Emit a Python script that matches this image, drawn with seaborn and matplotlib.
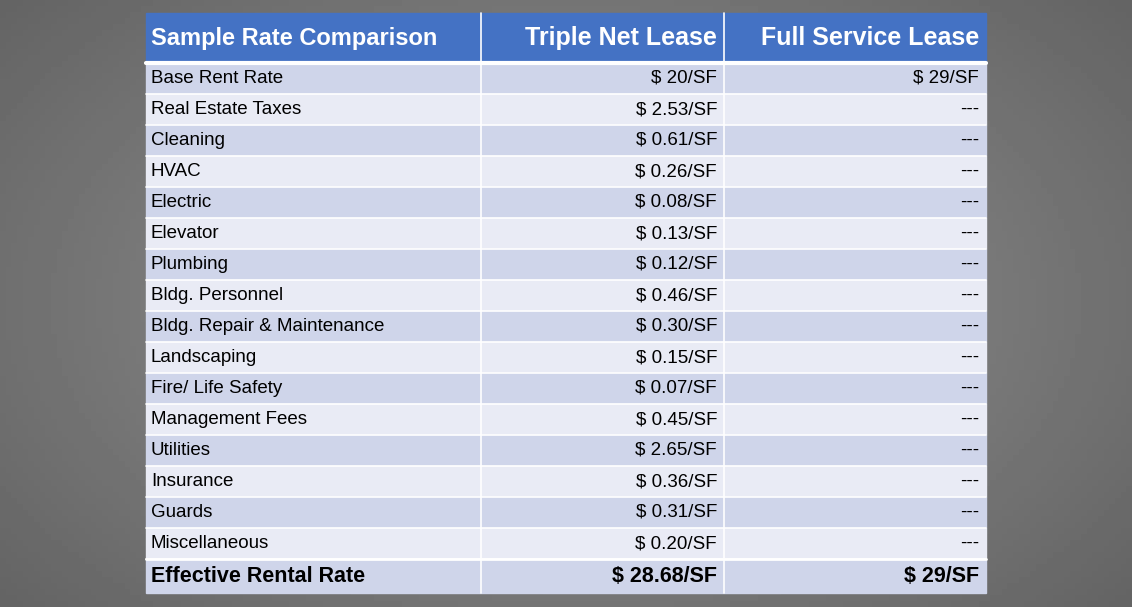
import numpy as np
import matplotlib
matplotlib.use("Agg")
import matplotlib.pyplot as plt
import seaborn as sns
from matplotlib.patches import Rectangle

sns.set_theme(style="white")
plt.rcParams['font.family'] = ['Liberation Sans', 'DejaVu Sans']

headers = ["Sample Rate Comparison", "Triple Net Lease", "Full Service Lease"]
items = ["Base Rent Rate", "Real Estate Taxes", "Cleaning", "HVAC", "Electric", "Elevator",
         "Plumbing", "Bldg. Personnel", "Bldg. Repair & Maintenance", "Landscaping",
         "Fire/ Life Safety", "Management Fees", "Utilities", "Insurance", "Guards", "Miscellaneous"]
nnn = ["$ 20/SF", "$ 2.53/SF", "$ 0.61/SF", "$ 0.26/SF", "$ 0.08/SF", "$ 0.13/SF", "$ 0.12/SF",
       "$ 0.46/SF", "$ 0.30/SF", "$ 0.15/SF", "$ 0.07/SF", "$ 0.45/SF", "$ 2.65/SF",
       "$ 0.36/SF", "$ 0.31/SF", "$ 0.20/SF"]
full = ["$ 29/SF"] + ["---"] * 15
total = ["Effective Rental Rate", "$ 28.68/SF", "$ 29/SF"]

W, H = 1132, 607
fig = plt.figure(figsize=(W / 100, H / 100), dpi=100)
ax = fig.add_axes([0, 0, 1, 1])
ax.set_xlim(0, W)
ax.set_ylim(H, 0)
ax.axis("off")

# background gradient
xx, yy = np.meshgrid(np.linspace(-1, 1, 200), np.linspace(-1, 1, 100))
r = np.sqrt(xx**2 * 0.8 + yy**2 * 0.6)
ax.imshow(0.58 - 0.16 * r, cmap="gray", vmin=0, vmax=1, extent=[0, W, H, 0], aspect="auto", zorder=0)

xs = [146, 481, 724, 986]
top, hdr_bot = 13, 63
row_h = 31.0
tot_top = hdr_bot + row_h * len(items)
bottom = 593

ax.add_patch(Rectangle((xs[0], top), xs[3] - xs[0], hdr_bot - top, color="#4472c4", zorder=1))
for i, h in enumerate(headers):
    if i == 0:
        ax.text(xs[0] + 5, (top + hdr_bot) / 2, h, color="white", fontsize=17, fontweight="bold", va="center", ha="left", zorder=3)
    else:
        ax.text(xs[i + 1] - 7, (top + hdr_bot) / 2, h, color="white", fontsize=18, fontweight="bold", va="center", ha="right", zorder=3)

for k, (a, b, c) in enumerate(zip(items, nnn, full)):
    y0 = hdr_bot + k * row_h
    col = "#cfd5ea" if k % 2 == 0 else "#e9ebf5"
    ax.add_patch(Rectangle((xs[0], y0), xs[3] - xs[0], row_h, color=col, zorder=1))
    yc = y0 + row_h / 2
    ax.text(xs[0] + 5, yc, a, fontsize=13.5, va="center", ha="left", color="black", zorder=3)
    ax.text(xs[2] - 7, yc, b, fontsize=13.5, va="center", ha="right", color="black", zorder=3)
    ax.text(xs[3] - 7, yc, c, fontsize=13.5, va="center", ha="right", color="black", zorder=3)

ax.add_patch(Rectangle((xs[0], tot_top), xs[3] - xs[0], bottom - tot_top, color="#cfd5ea", zorder=1))
yc = (tot_top + bottom) / 2
ax.text(xs[0] + 5, yc, total[0], fontsize=15.5, fontweight="bold", va="center", ha="left", color="black", zorder=3)
ax.text(xs[2] - 7, yc, total[1], fontsize=15.5, fontweight="bold", va="center", ha="right", color="black", zorder=3)
ax.text(xs[3] - 7, yc, total[2], fontsize=15.5, fontweight="bold", va="center", ha="right", color="black", zorder=3)

# grid lines
for k in range(1, len(items) + 1):
    y = hdr_bot + k * row_h
    ax.plot([xs[0], xs[3]], [y, y], color="white", lw=1.2, zorder=2)
ax.plot([xs[0], xs[3]], [hdr_bot, hdr_bot], color="white", lw=3, zorder=2)
ax.plot([xs[0], xs[3]], [tot_top, tot_top], color="white", lw=2, zorder=2)
for x in xs[1:3]:
    ax.plot([x, x], [top, bottom], color="white", lw=1.2, zorder=2)

fig.savefig("out.png", dpi=100)
